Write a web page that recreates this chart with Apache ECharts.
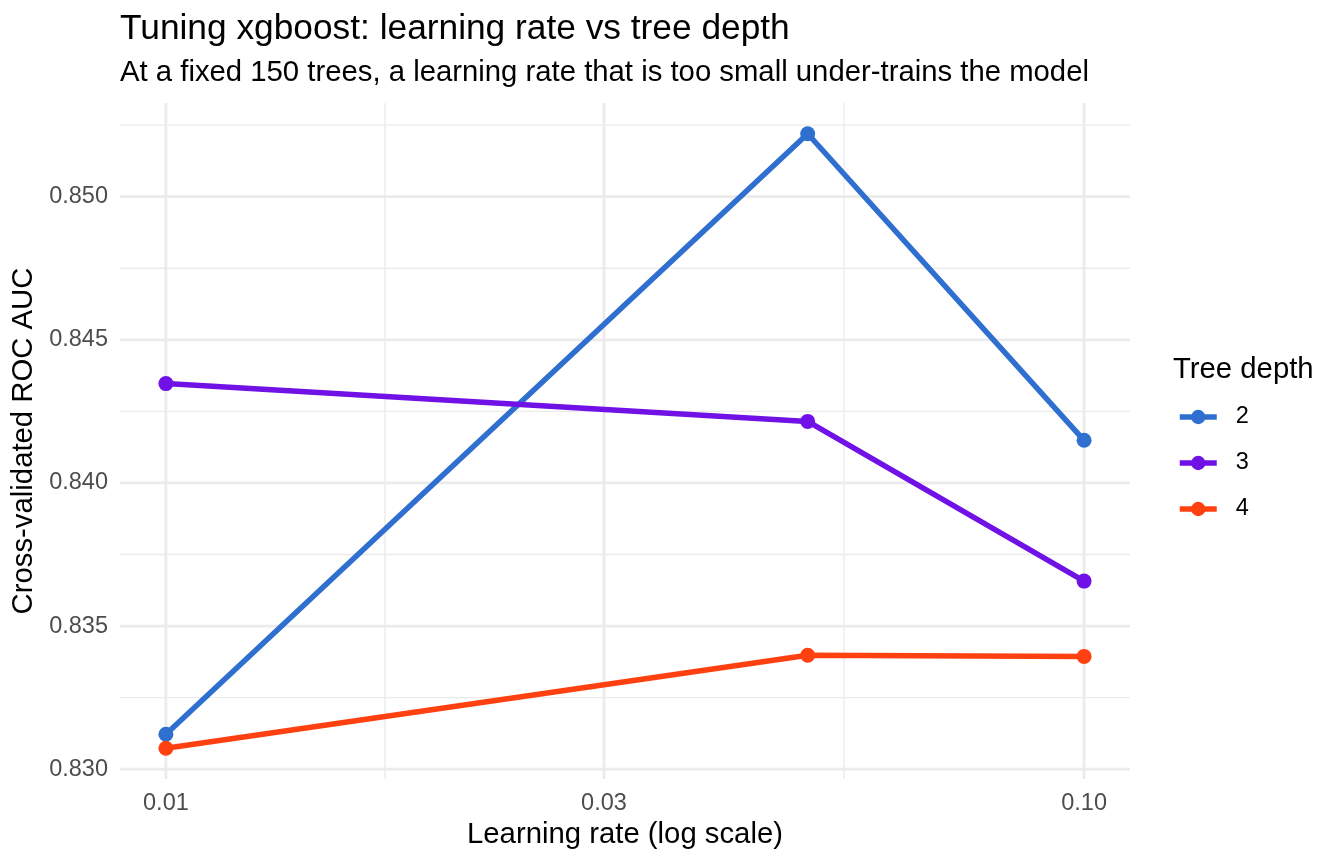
<!DOCTYPE html>
<html>
<head>
<meta charset="utf-8">
<script src="https://cdn.jsdelivr.net/npm/echarts@6/dist/echarts.min.js"></script>
<style>html,body{margin:0;padding:0;background:#fff;}#chart{width:1344px;height:864px;}</style>
</head>
<body>
<div id="chart"></div>
<script>
// ---- data ----
const learningRates = [0.01, 0.05, 0.1];
const depthNames = ['2', '3', '4'];
const aucDepth2 = [0.83122, 0.85220, 0.84149];
const aucDepth3 = [0.84347, 0.84215, 0.83657];
const aucDepth4 = [0.83073, 0.83398, 0.83394];
const xTickValues = [0.01, 0.03, 0.1];
const xTickLabels = ['0.01', '0.03', '0.10'];
const yTickValues = [0.830, 0.835, 0.840, 0.845, 0.850];
const yTickLabels = ['0.830', '0.835', '0.840', '0.845', '0.850'];
const seriesColors = ['#2E6FCF', '#7012E6', '#FF4011'];

// ---- scales (ggplot-like 5% expansion, log10 x) ----
const allAuc = aucDepth2.concat(aucDepth3, aucDepth4);
const yLo = Math.min.apply(null, allAuc), yHi = Math.max.apply(null, allAuc);
const yPad = (yHi - yLo) * 0.05;
const yMin = yLo - yPad, yMax = yHi + yPad;
const lx = learningRates.map(v => Math.log10(v));
const xLo = Math.min.apply(null, lx), xHi = Math.max.apply(null, lx);
const xPad = (xHi - xLo) * 0.05;
const xMin = xLo - xPad, xMax = xHi + xPad;

const xMajor = xTickValues.map(v => Math.log10(v));
const xMinor = [];
for (let i = 0; i < xMajor.length - 1; i++) xMinor.push((xMajor[i] + xMajor[i + 1]) / 2);
const yMinor = [];
for (let i = 0; i < yTickValues.length - 1; i++) yMinor.push((yTickValues[i] + yTickValues[i + 1]) / 2);
{
  const step = yTickValues[1] - yTickValues[0];
  const above = yTickValues[yTickValues.length - 1] + step / 2;
  const below = yTickValues[0] - step / 2;
  if (above < yMax) yMinor.push(above);
  if (below > yMin) yMinor.push(below);
}

const FONT = 'Liberation Sans, Arial, Helvetica, sans-serif';
const GRID_COLOR = '#EBEBEB';

function gridLineSeries(points, w) {
  return {
    type: 'line',
    data: points,
    z: 0,
    silent: true,
    symbol: 'none',
    showSymbol: false,
    clip: false,
    lineStyle: { width: w, color: GRID_COLOR },
    emphasis: { disabled: true },
    tooltip: { show: false },
    animation: false
  };
}

const gridSeries = []
  .concat(yMinor.map(v => gridLineSeries([[xMin, v], [xMax, v]], 1.4)))
  .concat(xMinor.map(v => gridLineSeries([[v, yMin], [v, yMax]], 1.4)))
  .concat(yTickValues.map(v => gridLineSeries([[xMin, v], [xMax, v]], 2.8)))
  .concat(xMajor.map(v => gridLineSeries([[v, yMin], [v, yMax]], 2.8)));

const aucSets = [aucDepth2, aucDepth3, aucDepth4];
const dataSeries = depthNames.map((name, i) => ({
  name: name,
  type: 'line',
  z: 5,
  data: learningRates.map((lr, j) => [Math.log10(lr), aucSets[i][j]]),
  symbol: 'circle',
  symbolSize: 15,
  showSymbol: true,
  lineStyle: { width: 5.5, color: seriesColors[i] },
  itemStyle: { color: seriesColors[i] },
  emphasis: { disabled: true },
  animation: false
}));

const chart = echarts.init(document.getElementById('chart'), null, { renderer: 'canvas' });
chart.setOption({
  backgroundColor: '#ffffff',
  animation: false,
  title: [
    { text: 'Tuning xgboost: learning rate vs tree depth', left: 120, top: 12, padding: 0,
      textStyle: { fontFamily: FONT, fontSize: 35.3, fontWeight: 'normal', color: '#000000' } },
    { text: 'At a fixed 150 trees, a learning rate that is too small under-trains the model', left: 120, top: 58, padding: 0,
      textStyle: { fontFamily: FONT, fontSize: 29.3, fontWeight: 'normal', color: '#000000' } },
    { text: 'Tree depth', left: 1173, top: 355, padding: 0,
      textStyle: { fontFamily: FONT, fontSize: 29.3, fontWeight: 'normal', color: '#000000' } }
  ],
  legend: {
    orient: 'vertical',
    left: 1177,
    top: 405,
    padding: 0,
    itemWidth: 37,
    itemHeight: 18,
    itemGap: 22,
    data: depthNames,
    selectedMode: false,
    lineStyle: { width: 5.5 },
    textStyle: { fontFamily: FONT, fontSize: 23.5, color: '#000000', lineHeight: 24, padding: [0, 0, 0, 14] }
  },
  grid: { left: 120, right: 214, top: 103, bottom: 85, containLabel: false },
  xAxis: {
    type: 'value',
    min: xMin,
    max: xMax,
    name: 'Learning rate (log scale)',
    nameLocation: 'middle',
    nameGap: 41,
    nameTextStyle: { fontFamily: FONT, fontSize: 29.3, color: '#000000', verticalAlign: 'top' },
    axisLine: { show: false },
    axisTick: { show: false },
    splitLine: { show: false },
    axisLabel: {
      customValues: xMajor,
      margin: 13,
      fontFamily: FONT,
      fontSize: 23.5,
      color: '#4D4D4D',
      formatter: function (v) {
        for (let i = 0; i < xMajor.length; i++) if (Math.abs(xMajor[i] - v) < 1e-6) return xTickLabels[i];
        return '';
      }
    }
  },
  yAxis: {
    type: 'value',
    min: yMin,
    max: yMax,
    name: 'Cross-validated ROC AUC',
    nameLocation: 'middle',
    nameGap: 68,
    nameTextStyle: { fontFamily: FONT, fontSize: 29.3, color: '#000000' },
    axisLine: { show: false },
    axisTick: { show: false },
    splitLine: { show: false },
    axisLabel: {
      customValues: yTickValues,
      margin: 12,
      fontFamily: FONT,
      fontSize: 23.5,
      color: '#4D4D4D',
      formatter: function (v) {
        for (let i = 0; i < yTickValues.length; i++) if (Math.abs(yTickValues[i] - v) < 1e-9) return yTickLabels[i];
        return '';
      }
    }
  },
  series: gridSeries.concat(dataSeries)
});
</script>
</body>
</html>
